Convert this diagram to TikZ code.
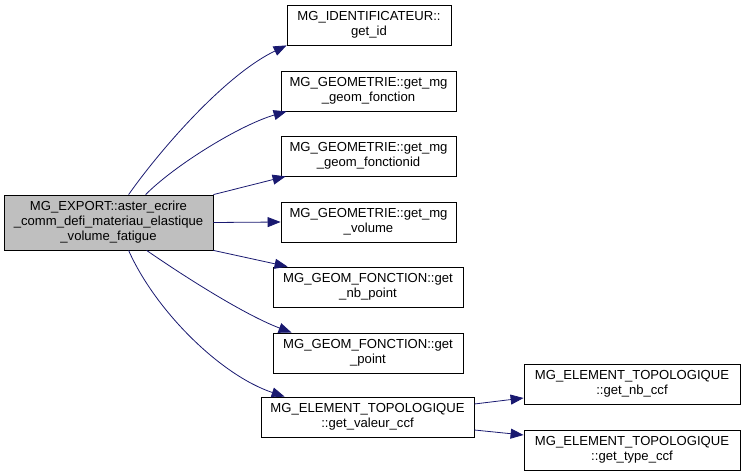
\documentclass[tikz,border=0pt]{standalone}
\usepackage{fontspec}
\setmainfont{Liberation Sans}
\usetikzlibrary{arrows.meta,calc}
\definecolor{edgecol}{RGB}{25,25,112}
\definecolor{maingray}{RGB}{191,191,191}
\begin{document}
\begin{tikzpicture}[x=1pt,y=-1pt,
  fn/.style={draw=black,line width=0.8pt,fill=white,rectangle,align=center,inner sep=0pt,
    font=\fontsize{13.1}{15}\selectfont},
  call/.style={draw=edgecol,line width=0.8pt,-{Triangle[length=13pt,width=10pt]}}]
\useasboundingbox (0,0) rectangle (744,476);
\node[fn,fill=maingray,minimum width=209pt,minimum height=55pt] (main) at (108.5,222.5)
  {MG\_EXPORT::aster\_ecrire\\\_comm\_defi\_materiau\_elastique\\\_volume\_fatigue};
\node[fn,minimum width=164pt,minimum height=40pt] (getid) at (369,25) {MG\_IDENTIFICATEUR::\\get\_id};
\node[fn,minimum width=175pt,minimum height=40pt] (gf) at (368.5,91) {MG\_GEOMETRIE::get\_mg\\\_geom\_fonction};
\node[fn,minimum width=175pt,minimum height=40pt] (fid) at (368.5,156) {MG\_GEOMETRIE::get\_mg\\\_geom\_fonctionid};
\node[fn,minimum width=175pt,minimum height=40pt] (vol) at (368.5,222) {MG\_GEOMETRIE::get\_mg\\\_volume};
\node[fn,minimum width=190pt,minimum height=40pt] (nbp) at (368,287) {MG\_GEOM\_FONCTION::get\\\_nb\_point};
\node[fn,minimum width=190pt,minimum height=40pt] (pt) at (368,353) {MG\_GEOM\_FONCTION::get\\\_point};
\node[fn,minimum width=213pt,minimum height=40pt] (vc) at (367.5,417) {MG\_ELEMENT\_TOPOLOGIQUE\\::get\_valeur\_ccf};
\node[fn,minimum width=216pt,minimum height=40pt] (nbc) at (632,384) {MG\_ELEMENT\_TOPOLOGIQUE\\::get\_nb\_ccf};
\node[fn,minimum width=216pt,minimum height=40pt] (tc) at (632,450) {MG\_ELEMENT\_TOPOLOGIQUE\\::get\_type\_ccf};
% edges
\draw[call] ($(main.north west)+(125,0)$) .. controls (160,150) and (225,75) .. (getid.south west);
\draw[call] ($(main.north west)+(142,0)$) .. controls (175,165) and (240,125) .. ($(gf.south west)+(6,0)$);
\draw[call] (main.north east) -- ($(fid.south west)+(5,0)$);
\draw[call] (main.east) -- (vol.west);
\draw[call] (main.south east) -- ($(nbp.north west)+(15,0)$);
\draw[call] ($(main.south west)+(143,0)$) .. controls (185,277) and (245,315) .. ($(pt.north west)+(19,0)$);
\draw[call] ($(main.south west)+(125,0)$) .. controls (155,310) and (220,375) .. ($(vc.north west)+(24,0)$);
\draw[call] ($(vc.east)+(0,-13)$) -- ($(nbc.west)+(0,14)$);
\draw[call] ($(vc.east)+(0,13)$) -- ($(tc.west)+(0,-15)$);
\end{tikzpicture}
\end{document}
